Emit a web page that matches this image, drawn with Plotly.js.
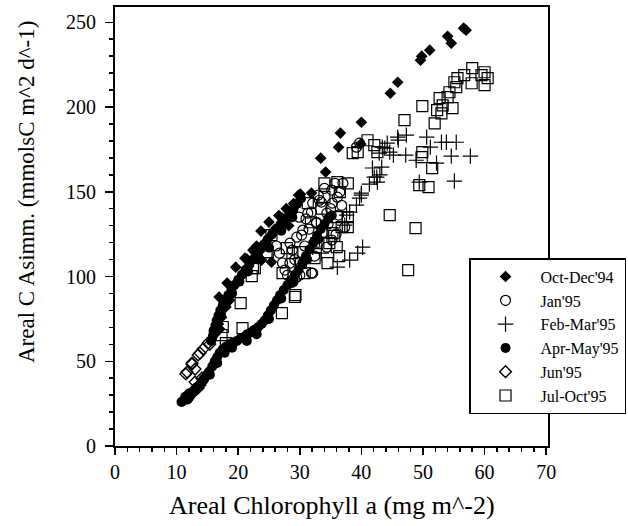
<!DOCTYPE html>
<html>
<head>
<meta charset="utf-8">
<script src="https://cdn.plot.ly/plotly-3.0.1.min.js"></script>
<style>html,body{margin:0;padding:0;background:#fff;}#chart{width:628px;height:526px;}</style>
</head>
<body>
<div id="chart"></div>
<script>
// Oct-Dec'94 (filled diamonds)
const octDec94X = [56.6,57.0,54.0,54.6,51.1,49.8,49.6,45.9,44.7,40.0,36.6,36.3,39.9,33.4,34.2,31.9,30.1,25.0,23.7,25.4,27.2,28.8,22.4,23.8,25.4,19.6,18.2,16.9,21.4,22.7,21.1,29.8,16.2,16.8,17.3,17.0,18.0,18.6,26.0,27.8,28.2,24.4,23.0,29.0,26.6];
const octDec94Y = [246.5,245.3,241.7,237.6,233.5,230.0,227.6,214.6,208.1,191.0,184.6,176.3,178.1,169.8,161.6,149.2,148.6,132.1,126.8,124.4,134.4,138.0,115.6,109.7,108.5,105.5,96.1,87.9,110.3,114.4,110.8,148.0,66,72,76,69,82,86,128,140,130,120,118,143,136];

// Jan'95 (open circles)
const jan95X = [32.1,33.5,31.9,31.3,32.7,30.5,29.5,28.8,28.4,28.0,30.0,31.9,28.7,36.1,36.5,36.3,37.3,34.4,35.2,35.7,35.2,34.0,39.7,39.2,30.3,28.4,32.1,33.2,29.5,32.7,34.4,35.3,28.8,26.7,27.6,
  31.0,33.8,35.0,30.8,29.2,34.6,36.8,33.0,31.5,27.2,29.9,35.9,37.0,32.4,26.2];
const jan95Y = [143.3,143.9,138.0,137.4,131.5,127.4,123.2,115.6,107.9,100.8,100.8,102.0,96.7,146.8,149.8,136.2,129.1,117.3,121.5,155.0,151.0,152.0,178.7,176.3,124.4,119.7,102.0,145.0,99.6,132.0,137.4,143.3,96.7,113.8,103.8,
  134.0,126.0,140.0,118.0,110.0,131.0,142.0,148.0,128.0,108.0,135.0,125.0,155.0,112.0,118.0];

// Feb-Mar'95 (plus)
const febMar95X = [50.6,53.0,53.8,55.4,54.6,57.7,55.1,45.2,47.2,48.9,52.2,51.2,45.9,47.3,42.9,43.3,43.4,42.1,41.3,42.6,49.4,40.0,43.8,44.6,42.5,40.0,39.7,39.2,38.1,37.6,40.2,39.4,38.1,36.1,33.2,33.5,32.1,37.3,44.2,46.0,43.0,41.8];
const febMar95Y = [182.2,179.2,179.2,179.2,171.0,171.0,156.3,171.6,171.6,168.6,166.9,176.3,182.2,183.4,172.8,164.5,176.3,158.6,154.5,155.7,155.7,149.2,175.7,173.4,158.6,148.0,146.2,142.1,138.0,136.2,117.3,113.8,109.7,105.5,122.6,113.8,117.3,130.3,178.7,180.5,160.0,164.0];

// Apr-May'95 (filled circles)
const aprMay95X = [10.8,11.2,11.5,11.8,12.1,12.4,12.6,12.9,13.2,13.5,13.8,14.1,14.5,14.9,15.3,15.8,16.2,16.6,17.0,17.5,18.0,18.6,19.2,19.8,20.4,21.0,21.5,22.0,22.6,23.2,23.8,24.3,24.8,25.3,25.8,26.3,26.8,27.4,28.0,28.6,29.2,29.8,30.4,31.0,31.6,32.2,32.8,33.4,34.0,34.6,
  15.6,15.9,16.1,16.3,16.5,16.8,17.1,17.5,17.9,18.4,18.9,19.4,20.0,20.6,21.2,21.8,22.4,23.0,23.6,24.2,24.8,25.5,26.2,26.9,27.6,28.3,29.0,29.6,30.2,
  11.4,12.0,12.8,13.6,14.4,15.4,16.6,17.8,19.0,21.4,23.0,25.0,27.0,29.0,31.2,33.0,35.2,
  16.0,16.6,17.2,18.0,19.0,20.2,21.6,23.2,25.0,27.0,28.8];
const aprMay95Y = [26,27,28,27.5,29,30.5,32,33,34.5,35,36.5,38,40,42,44,47,50,52.5,55,57,58.5,60,61,62,63.5,64.5,66,67,68.5,70,72,74,77,80,83,86,89,92,95,98,101,104,108,112,116,120,124,128,131,134,
  62,65,68,71,74,77,80,83,86,89,92,95,98,101,104,107,110,113,116,119,122,125,128,131,134,137,140,143,146,
  29,31,32,35,39,42,49,55,58,62,66,75,87,97,110,122,136,
  68,73,78,84,90,97,103,110,117,127,135];

// Jun'95 (open diamonds)
const jun95X = [15.4,14.3,13.5,12.5,11.5,13.8,14.1,13.0,15.1,13.8,12.5,11.7,13.5,13.0];
const jun95Y = [60.1,57.2,53.7,48.3,42.5,36.0,40.0,45.4,60.7,54.8,48.9,43.6,34.2,37.7];

// Jul-Oct'95 (open squares)
const julOct95X = [58.0,60.0,60.5,60.0,57.9,56.7,55.6,55.1,55.4,54.3,54.0,52.7,53.2,52.3,53.0,51.9,54.8,59.5,49.9,47.0,41.0,42.1,38.6,39.4,42.6,49.9,49.8,51.5,50.9,49.4,34.0,36.1,37.8,36.5,44.6,48.8,47.6,25.4,24.8,22.4,29.3,27.2,32.4,34.5,34.8,36.0,36.8,35.3,27.9,28.8,30.0,30.8,37.8,36.0,31.3,37.8,32.7,24.6,22.7,22.2,20.4,27.1,29.2,20.7,17.5,17.3,18.0,
  33.5,35.6,31.8,30.2,36.4,34.0];
const julOct95Y = [222.9,220.5,217.0,212.9,214.0,218.8,217.0,214.6,211.7,208.7,205.8,205.2,201.0,198.1,196.3,190.4,199.3,218.8,200.5,192.2,180.4,177.5,172.8,173.4,173.4,173.4,170.4,163.9,152.7,153.9,155.0,155.7,155.0,149.8,136.2,128.5,103.8,124.4,114.4,105.0,89.0,102.0,110.8,107.9,119.7,117.3,129.1,125.6,116.7,113.8,114.4,102.0,135.0,135.0,143.3,129.1,119.7,114.4,105.0,100.2,84.3,78.4,87.9,69.6,70.2,65.4,60.7,
  140.0,124.0,132.0,108.0,112.0,147.0];

const seriesNames = ["Oct-Dec'94","Jan'95","Feb-Mar'95","Apr-May'95","Jun'95","Jul-Oct'95"];
const xTitle = 'Areal Chlorophyll a (mg m^-2)';
const yTitle = 'Areal C Asimm. (mmolsC m^2 d^-1)';

const mk = (x, y, name, symbol, size, lw) => ({
  x: x, y: y, name: name, type: 'scatter', mode: 'markers',
  marker: {symbol: symbol, size: size, color: '#000', line: {color: '#000', width: lw}}
});

const data = [
  mk(octDec94X, octDec94Y, seriesNames[0], 'diamond', 9, 0),
  mk(jan95X, jan95Y, seriesNames[1], 'circle-open', 10, 1.2),
  mk(febMar95X, febMar95Y, seriesNames[2], 'cross-thin-open', 11, 1.2),
  mk(aprMay95X, aprMay95Y, seriesNames[3], 'circle', 10, 0),
  mk(jun95X, jun95Y, seriesNames[4], 'diamond-open', 9, 1.4),
  mk(julOct95X, julOct95Y, seriesNames[5], 'square-open', 11, 1.2)
];

const serif = 'Liberation Serif, Times New Roman, serif';

const layout = {
  width: 628, height: 526,
  margin: {l: 115, r: 80, t: 7, b: 80, autoexpand: false},
  paper_bgcolor: '#fff', plot_bgcolor: '#fff',
  font: {family: serif, color: '#000', size: 20},
  showlegend: true,
  legend: {
    x: 0.8176, y: 0.428, xanchor: 'left', yanchor: 'top',
    bordercolor: '#000', borderwidth: 1.5, bgcolor: '#fff',
    font: {family: serif, size: 16, color: '#000'},
    itemwidth: 60, tracegroupgap: 0
  },
  xaxis: {
    range: [0, 70.3], dtick: 10, tick0: 0,
    showline: true, linecolor: '#000', linewidth: 2, mirror: true,
    ticks: 'outside', ticklen: 7, tickwidth: 1.5, tickcolor: '#000',
    minor: {dtick: 2, ticks: 'outside', ticklen: 4, tickcolor: '#000', showgrid: false},
    showgrid: false, zeroline: false,
    tickfont: {family: serif, size: 20}
  },
  yaxis: {
    range: [0, 259], dtick: 50, tick0: 0,
    showline: true, linecolor: '#000', linewidth: 2, mirror: true,
    ticks: 'outside', ticklen: 8, tickwidth: 1.5, tickcolor: '#000',
    ticklabelstandoff: 5,
    minor: {dtick: 10, ticks: 'outside', ticklen: 4, tickcolor: '#000', showgrid: false},
    showgrid: false, zeroline: false,
    tickfont: {family: serif, size: 20}
  },
  annotations: [
    {text: xTitle, xref: 'paper', yref: 'paper', x: 0.5, y: -0.1344, xanchor: 'center', yanchor: 'middle',
     showarrow: false, font: {family: serif, size: 26, color: '#000'}},
    {text: yTitle, xref: 'paper', yref: 'paper', x: -0.2032, y: 0.5786, xanchor: 'center', yanchor: 'middle',
     textangle: -90, showarrow: false, font: {family: serif, size: 23, color: '#000'}}
  ]
};

Plotly.newPlot('chart', data, layout, {displayModeBar: false, staticPlot: true});
</script>
</body>
</html>
